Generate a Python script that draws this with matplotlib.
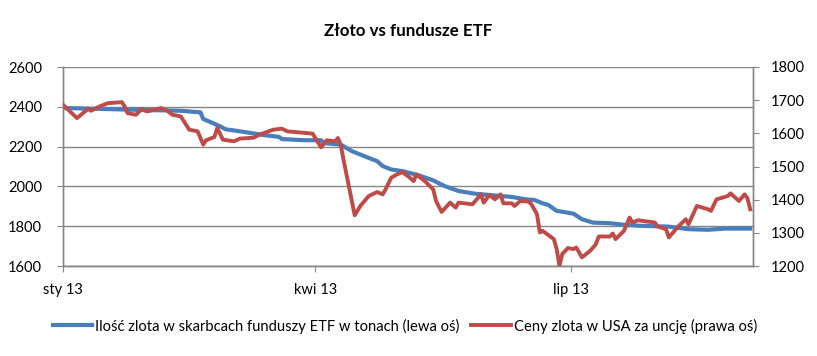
import matplotlib
matplotlib.use("Agg")
import matplotlib.pyplot as plt
import pandas as pd

title = "Złoto vs fundusze ETF"
etf_label = "Ilość zlota w skarbcach funduszy ETF w tonach (lewa oś)"
gold_label = "Ceny zlota w USA za uncję (prawa oś)"

etf_dates = ["2013-01-01", "2013-01-27", "2013-02-12", "2013-02-19", "2013-02-20",
             "2013-02-26", "2013-02-28", "2013-03-05", "2013-03-14", "2013-03-19",
             "2013-03-20", "2013-03-28", "2013-04-03", "2013-04-04", "2013-04-10",
             "2013-04-14", "2013-04-20", "2013-04-23", "2013-04-25", "2013-04-28",
             "2013-05-02", "2013-05-08", "2013-05-13", "2013-05-17", "2013-05-22",
             "2013-05-28", "2013-06-06", "2013-06-10", "2013-06-15", "2013-06-18",
             "2013-06-21", "2013-06-23", "2013-06-26", "2013-06-30", "2013-07-02",
             "2013-07-05", "2013-07-09", "2013-07-15", "2013-07-20", "2013-07-26",
             "2013-08-05", "2013-08-12", "2013-08-19", "2013-08-25", "2013-09-03"]
etf_tonnes = [2394, 2385, 2380, 2372, 2339,
              2302, 2287, 2277, 2257, 2249,
              2238, 2232, 2232, 2218, 2210,
              2177, 2143, 2127, 2102, 2085,
              2077, 2055, 2030, 2002, 1977,
              1963, 1952, 1947, 1935, 1932,
              1915, 1907, 1877, 1868, 1863,
              1835, 1818, 1815, 1807, 1802,
              1798, 1785, 1782, 1788, 1788]

gold_dates = ["2013-01-01", "2013-01-06", "2013-01-10", "2013-01-11", "2013-01-14",
              "2013-01-17", "2013-01-22", "2013-01-23", "2013-01-24", "2013-01-27",
              "2013-01-29", "2013-01-31", "2013-02-05", "2013-02-07", "2013-02-09",
              "2013-02-12", "2013-02-15", "2013-02-18", "2013-02-20", "2013-02-21",
              "2013-02-24", "2013-02-25", "2013-02-27", "2013-03-03", "2013-03-05",
              "2013-03-10", "2013-03-12", "2013-03-17", "2013-03-20", "2013-03-22",
              "2013-03-26", "2013-03-31", "2013-04-03", "2013-04-05", "2013-04-08",
              "2013-04-09", "2013-04-10", "2013-04-11", "2013-04-15", "2013-04-17",
              "2013-04-20", "2013-04-23", "2013-04-25", "2013-04-26", "2013-04-28",
              "2013-04-30", "2013-05-02", "2013-05-04", "2013-05-06", "2013-05-07",
              "2013-05-10", "2013-05-13", "2013-05-14", "2013-05-16", "2013-05-19",
              "2013-05-21", "2013-05-22", "2013-05-27", "2013-05-30", "2013-05-31",
              "2013-06-02", "2013-06-04", "2013-06-06", "2013-06-07", "2013-06-10",
              "2013-06-11", "2013-06-13", "2013-06-16", "2013-06-17", "2013-06-19",
              "2013-06-20", "2013-06-21", "2013-06-25", "2013-06-26", "2013-06-27",
              "2013-06-28", "2013-06-30", "2013-07-02", "2013-07-03", "2013-07-05",
              "2013-07-08", "2013-07-10", "2013-07-11", "2013-07-15", "2013-07-16",
              "2013-07-17", "2013-07-20", "2013-07-22", "2013-07-23", "2013-07-25",
              "2013-07-31", "2013-08-01", "2013-08-04", "2013-08-05", "2013-08-06",
              "2013-08-08", "2013-08-11", "2013-08-12", "2013-08-15", "2013-08-19",
              "2013-08-20", "2013-08-22", "2013-08-26", "2013-08-27", "2013-08-30",
              "2013-09-01", "2013-09-02", "2013-09-03"]
gold_usd = [1686, 1646, 1674, 1668, 1681,
            1691, 1694, 1681, 1661, 1656,
            1673, 1666, 1676, 1669, 1656,
            1651, 1611, 1606, 1566, 1579,
            1589, 1616, 1581, 1576, 1584,
            1587, 1596, 1611, 1614, 1606,
            1603, 1599, 1558, 1579, 1576,
            1586, 1566, 1521, 1353, 1381,
            1411, 1423, 1416, 1431, 1466,
            1476, 1483, 1471, 1456, 1476,
            1456, 1431, 1396, 1363, 1391,
            1376, 1391, 1386, 1416, 1391,
            1414, 1401, 1416, 1389, 1389,
            1381, 1396, 1394, 1386, 1356,
            1301, 1306, 1281, 1251, 1201,
            1236, 1254, 1251, 1256, 1226,
            1246, 1266, 1289, 1289, 1298,
            1281, 1306, 1346, 1331, 1338,
            1331, 1319, 1311, 1286, 1296,
            1316, 1341, 1326, 1381, 1371,
            1366, 1401, 1411, 1419, 1396,
            1416, 1405, 1371]

x_tick_dates = ["2013-01-01", "2013-04-01", "2013-07-01"]
x_tick_labels = ["sty 13", "kwi 13", "lip 13"]
left_ticks = [1600, 1800, 2000, 2200, 2400, 2600]
right_ticks = [1200, 1300, 1400, 1500, 1600, 1700, 1800]

FONT = ["Lato", "DejaVu Sans"]
plt.rcParams["font.family"] = FONT

ed = pd.to_datetime(etf_dates)
gd = pd.to_datetime(gold_dates)

fig = plt.figure(figsize=(8.17, 3.56), dpi=100)
ax = fig.add_axes([63/817, 90/356, 690/817, 199/356])
ax2 = ax.twinx()

blue = "#4A7EBB"
red = "#BE4B48"
grid_c = "#868686"

l1, = ax.plot(ed, etf_tonnes, color=blue, lw=3.0, solid_joinstyle="round", zorder=3)
l2, = ax2.plot(gd, gold_usd, color=red, lw=2.8, solid_joinstyle="round", zorder=3)

ax.set_ylim(1600, 2600)
ax2.set_ylim(1200, 1800)
ax.set_yticks(left_ticks)
ax2.set_yticks(right_ticks)
ax.set_xlim(pd.Timestamp("2013-01-01"), pd.Timestamp("2013-09-04"))
ax.set_xticks(pd.to_datetime(x_tick_dates))
ax.set_xticklabels(x_tick_labels)

ax.grid(axis="y", color=grid_c, lw=1.0)
ax.set_axisbelow(True)
for a in (ax, ax2):
    a.spines["top"].set_visible(False)
    for s in ("left", "right", "bottom"):
        a.spines[s].set_color(grid_c)
        a.spines[s].set_linewidth(1.0)

ax.tick_params(axis="y", length=4, color=grid_c, pad=11, labelsize=10.5, labelcolor="black")
ax2.tick_params(axis="y", length=4, color=grid_c, pad=9, labelsize=10.5, labelcolor="black")
ax.tick_params(axis="x", length=4, color=grid_c, pad=8, labelsize=10.5, labelcolor="black")

fig.text(0.5, 1 - 31/356, title, ha="center", va="center", fontsize=12.2, fontweight="bold")

fig.legend([l1, l2], [etf_label, gold_label], loc="center", bbox_to_anchor=(405/817, 1 - 326/356),
           ncol=2, frameon=False, fontsize=10.6, handlelength=2.7, handletextpad=0.2,
           columnspacing=0.8)

fig.savefig("out.png", dpi=100)
